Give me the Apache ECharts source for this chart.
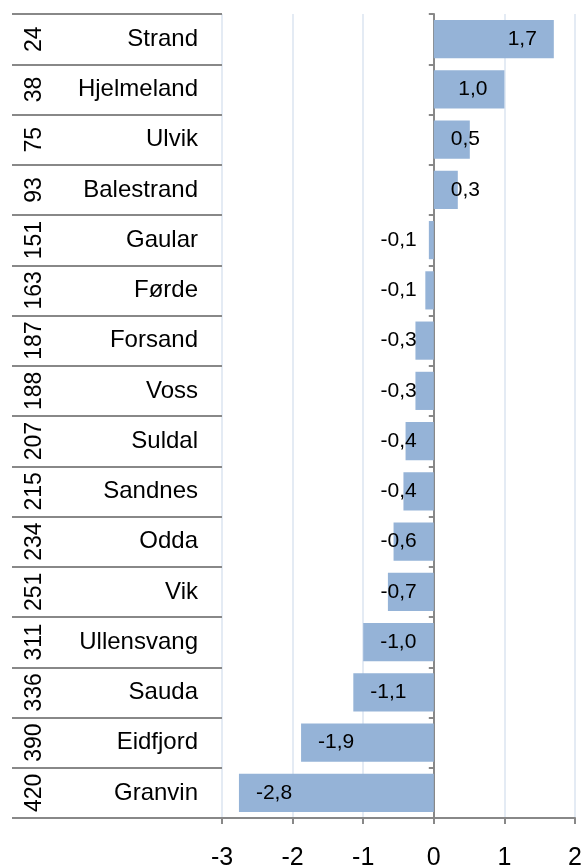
<!DOCTYPE html>
<html>
<head>
<meta charset="utf-8">
<script src="https://cdn.jsdelivr.net/npm/echarts@6/dist/echarts.min.js"></script>
<style>
  html, body { margin: 0; padding: 0; background: #fff; }
  #chart { width: 582px; height: 868px; }
</style>
</head>
<body>
<div id="chart"></div>
<script>
var names = ["Strand", "Hjelmeland", "Ulvik", "Balestrand", "Gaular", "Førde", "Forsand", "Voss",
  "Suldal", "Sandnes", "Odda", "Vik", "Ullensvang", "Sauda", "Eidfjord", "Granvin"];
var ranks = ["24", "38", "75", "93", "151", "163", "187", "188", "207", "215", "234", "251", "311", "336", "390", "420"];
var values = [1.70, 1.00, 0.51, 0.34, -0.07, -0.12, -0.26, -0.26, -0.40, -0.43, -0.57, -0.65, -1.00, -1.14, -1.88, -2.76];
var xTicks = [-3, -2, -1, 0, 1, 2];

var font = "'Liberation Sans', Arial, sans-serif";
var gray = "#888888";

// label sits at the bar end when the bar is long enough, else near the base
var barData = values.map(function (v) {
  var longBar = Math.abs(v) >= 1;
  var pos;
  if (v >= 0) pos = longBar ? "insideRight" : "insideLeft";
  else pos = longBar ? "insideLeft" : "insideRight";
  return { value: v, label: { position: pos } };
});

var myChart = echarts.init(document.getElementById("chart"));
myChart.setOption({
  animation: false,
  grid: { left: 222, right: 7, top: 14, bottom: 50, outerBoundsMode: "none" },
  xAxis: {
    type: "value",
    min: xTicks[0],
    max: xTicks[xTicks.length - 1],
    interval: 1,
    axisLine: { show: true, lineStyle: { color: gray, width: 2 } },
    axisTick: { show: true, length: 6, lineStyle: { color: gray, width: 2 } },
    axisLabel: { color: "#000", fontSize: 25, fontFamily: font, margin: 28 },
    splitLine: { show: true, lineStyle: { color: "#dbe4f1", width: 1.5 } }
  },
  yAxis: [
    {
      type: "category",
      data: names,
      inverse: true,
      position: "left",
      axisLine: { show: false, onZero: false },
      axisTick: { show: true, length: 210, lineStyle: { color: gray, width: 2 } },
      axisLabel: { color: "#000", fontSize: 24, fontFamily: font, margin: 24, padding: [6, 0, 0, 0] }
    },
    {
      type: "category",
      data: ranks,
      inverse: true,
      position: "left",
      axisLine: { show: false, onZero: false },
      axisTick: { show: false },
      axisLabel: { color: "#000", fontSize: 23, fontFamily: font, rotate: 90, margin: 176 }
    },
    {
      type: "category",
      data: names,
      inverse: true,
      position: "left",
      axisLine: { show: true, onZero: true, lineStyle: { color: gray, width: 2 } },
      axisTick: { show: true, length: 5, lineStyle: { color: gray, width: 2 } },
      axisLabel: { show: false }
    }
  ],
  series: [
    {
      type: "bar",
      yAxisIndex: 0,
      data: barData,
      barWidth: "76%",
      itemStyle: { color: "#95b3d7" },
      label: {
        show: true,
        distance: 17,
        color: "#000",
        fontSize: 21,
        fontFamily: font,
        padding: [4, 0, 0, 0],
        formatter: function (p) { return p.value.toFixed(1).replace(".", ","); }
      }
    }
  ]
});
window.addEventListener("resize", function () {
  myChart.resize();
});
</script>
</body>
</html>
